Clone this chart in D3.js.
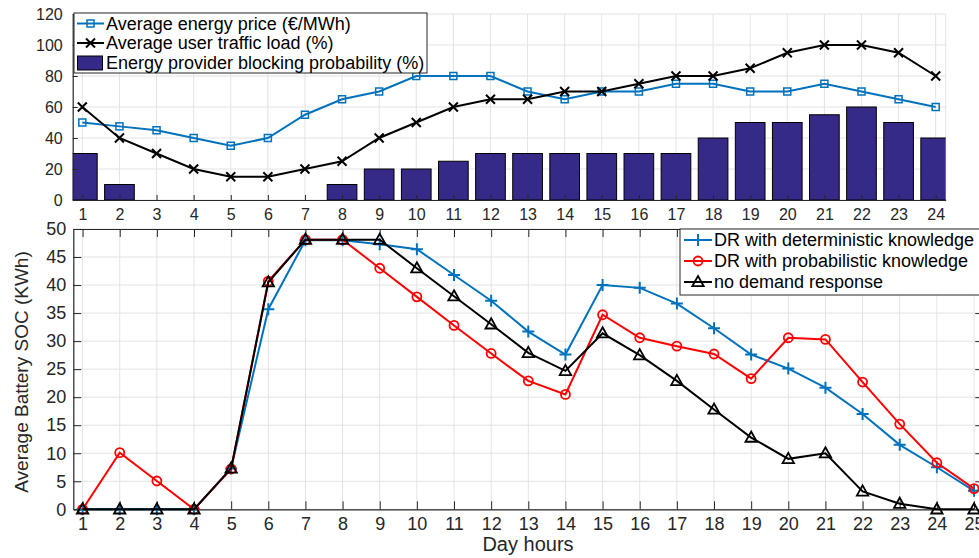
<!DOCTYPE html>
<html><head><meta charset="utf-8">
<script src="https://cdn.jsdelivr.net/npm/d3@7"></script>
<style>
body{margin:0;background:#fff;}
svg{display:block;font-family:"Liberation Sans",Arial,Helvetica,sans-serif;}
</style></head>
<body><svg id="chart" width="979" height="558"></svg>
<script>
// ---- data ----
const hoursTop = d3.range(1, 25);
const energyPrice = [50,47.5,45,40,35,40,55,65,70,80,80,80,70,65,70,70,75,75,70,70,75,70,65,60];
const trafficLoad = [60,40,30,20,15,15,20,25,40,50,60,65,65,70,70,75,80,80,85,95,100,100,95,80];
const blocking    = [30,10,0,0,0,0,0,10,20,20,25,30,30,30,30,30,30,40,50,50,55,60,50,40];
const topYTicks = [0,20,40,60,80,100,120];

const hoursBottom = d3.range(1, 26);
const socDeterministic = [0,0,0,0,7.3,35.7,48,48,47.3,46.4,41.8,37.2,31.7,27.6,40.0,39.5,36.7,32.3,27.6,25.1,21.7,17.0,11.5,7.5,3.3];
const socProbabilistic = [0,10.1,5.05,0,7.2,40.7,48.1,48.1,43.0,37.9,32.8,27.8,22.9,20.5,34.7,30.6,29.1,27.7,23.3,30.6,30.3,22.7,15.2,8.3,3.7];
const socNoDR          = [0,0,0,0,7.3,40.5,48.1,48.1,48.1,43.0,38.0,33.0,27.9,24.7,31.4,27.5,22.9,17.8,12.8,9.0,10.0,3.2,1.0,0,0];
const bottomYTicks = d3.range(0, 51, 5);

const topLegend = ["Average energy price (\u20AC/MWh)", "Average user traffic load (%)", "Energy provider blocking probability (%)"];
const bottomLegend = ["DR with deterministic knowledge", "DR with probabilistic knowledge", "no demand response"];
const yLabel = "Average Battery SOC (KWh)";
const xLabel = "Day hours";

// ---- style ----
const BLUE = "#0072BD", RED = "#FF0000", BLACK = "#000000", BAR = "#352A87";
const AX = "#262626", GRID = "#e3e3e3";

const svg = d3.select("#chart");

// ================= TOP PANEL =================
const T = {l:72.7, r:945.7, t:14, b:200};
const xT = d3.scaleLinear().domain([0.74, 24.27]).range([T.l, T.r]);
const yT = d3.scaleLinear().domain([0, 120]).range([T.b, T.t]);
const gT = svg.append("g");
svg.append("defs").append("clipPath").attr("id","clipT")
  .append("rect").attr("x",T.l).attr("y",T.t).attr("width",T.r-T.l).attr("height",T.b-T.t);

// grid
gT.append("g").selectAll("line").data(hoursTop).join("line")
  .attr("x1",d=>xT(d)).attr("x2",d=>xT(d)).attr("y1",T.t).attr("y2",T.b)
  .attr("stroke",GRID).attr("stroke-width",1);
gT.append("g").selectAll("line").data(topYTicks).join("line")
  .attr("x1",T.l).attr("x2",T.r).attr("y1",d=>yT(d)).attr("y2",d=>yT(d))
  .attr("stroke",GRID).attr("stroke-width",1);
gT.append("line").attr("x1",T.r).attr("x2",T.r).attr("y1",T.t).attr("y2",T.b).attr("stroke",GRID);

// bars
const bw = 0.8;
gT.append("g").attr("clip-path","url(#clipT)").selectAll("rect").data(blocking).join("rect")
  .attr("x",(d,i)=>xT(hoursTop[i]-bw/2)).attr("width",xT(1+bw)-xT(1))
  .attr("y",d=>yT(d)).attr("height",d=>yT(0)-yT(d))
  .attr("fill",BAR).attr("stroke","#000").attr("stroke-width",1);

// axes
const axTB = d3.axisBottom(xT).tickValues(hoursTop).tickFormat(d3.format("d")).tickSizeInner(-5).tickSizeOuter(0).tickPadding(9);
const gxT = gT.append("g").attr("transform",`translate(0,${T.b})`).call(axTB);
const axTL = d3.axisLeft(yT).tickValues(topYTicks).tickSizeInner(-5).tickSizeOuter(0).tickPadding(10);
const gyT = gT.append("g").attr("transform",`translate(${T.l},0)`).call(axTL);
[gxT,gyT].forEach(g=>{
  g.select(".domain").attr("stroke",AX).attr("stroke-width",1.2);
  g.selectAll(".tick line").attr("stroke",AX);
  g.selectAll(".tick text").attr("fill",AX).attr("font-size",16).attr("font-family","Liberation Sans, Arial, sans-serif");
});

// lines
const lineT = d3.line().x((d,i)=>xT(hoursTop[i])).y(d=>yT(d));
gT.append("path").datum(energyPrice).attr("d",lineT).attr("fill","none").attr("stroke",BLUE).attr("stroke-width",2);
gT.append("g").selectAll("rect").data(energyPrice).join("rect")
  .attr("x",(d,i)=>xT(hoursTop[i])-3.5).attr("y",d=>yT(d)-3.5).attr("width",7).attr("height",7)
  .attr("fill","none").attr("stroke",BLUE).attr("stroke-width",1.5);
gT.append("path").datum(trafficLoad).attr("d",lineT).attr("fill","none").attr("stroke",BLACK).attr("stroke-width",2);
const xMark = (g, cx, cy, s) => g.append("path").attr("d",`M${cx-s},${cy-s}L${cx+s},${cy+s}M${cx-s},${cy+s}L${cx+s},${cy-s}`)
  .attr("stroke",BLACK).attr("stroke-width",2).attr("fill","none");
const gX = gT.append("g");
trafficLoad.forEach((d,i)=>xMark(gX, xT(hoursTop[i]), yT(d), 4.5));

// legend
const LT = {x:74, y:13, w:353, h:60};
const gLT = svg.append("g");
gLT.append("rect").attr("x",LT.x).attr("y",LT.y).attr("width",LT.w).attr("height",LT.h)
  .attr("fill","#fff").attr("stroke",AX).attr("stroke-width",1);
const rowsT = [23.5, 43, 62.5];
gLT.append("line").attr("x1",77).attr("x2",104).attr("y1",rowsT[0]).attr("y2",rowsT[0]).attr("stroke",BLUE).attr("stroke-width",2);
gLT.append("rect").attr("x",90.5-3.5).attr("y",rowsT[0]-3.5).attr("width",7).attr("height",7).attr("fill","none").attr("stroke",BLUE).attr("stroke-width",1.5);
gLT.append("line").attr("x1",77).attr("x2",104).attr("y1",rowsT[1]).attr("y2",rowsT[1]).attr("stroke",BLACK).attr("stroke-width",2);
xMark(gLT, 90.5, rowsT[1], 4.5);
gLT.append("rect").attr("x",77.5).attr("y",56).attr("width",25).attr("height",14).attr("fill",BAR).attr("stroke","#000");
gLT.selectAll("text").data(topLegend).join("text")
  .attr("x",106).attr("y",(d,i)=>rowsT[i]).attr("dy","0.35em")
  .attr("font-size",18).attr("fill","#000").text(d=>d);

// ================= BOTTOM PANEL =================
const B = {l:73.3, r:983.3, t:229, b:509.3};
const xB = d3.scaleLinear().domain([0.75, 25.25]).range([B.l, B.r]);
const yB = d3.scaleLinear().domain([0, 50]).range([B.b, B.t]);
const gB = svg.append("g");

gB.append("g").selectAll("line").data(hoursBottom).join("line")
  .attr("x1",d=>xB(d)).attr("x2",d=>xB(d)).attr("y1",B.t).attr("y2",B.b).attr("stroke",GRID);
gB.append("g").selectAll("line").data(bottomYTicks).join("line")
  .attr("x1",B.l).attr("x2",B.r).attr("y1",d=>yB(d)).attr("y2",d=>yB(d)).attr("stroke",GRID);

const axBB = d3.axisBottom(xB).tickValues(hoursBottom).tickFormat(d3.format("d")).tickSizeInner(-8).tickSizeOuter(0).tickPadding(8);
const gxB = gB.append("g").attr("transform",`translate(0,${B.b})`).call(axBB);
const axBT = d3.axisTop(xB).tickValues(hoursBottom).tickFormat("").tickSizeInner(-8).tickSizeOuter(0);
const gxB2 = gB.append("g").attr("transform",`translate(0,${B.t})`).call(axBT);
const axBL = d3.axisLeft(yB).tickValues(bottomYTicks).tickSizeInner(-8).tickSizeOuter(0).tickPadding(7);
const gyB = gB.append("g").attr("transform",`translate(${B.l},0)`).call(axBL);
const axBR = d3.axisRight(yB).tickValues(bottomYTicks).tickFormat("").tickSizeInner(-8).tickSizeOuter(0);
const gyB2 = gB.append("g").attr("transform",`translate(${B.r},0)`).call(axBR);
[gxB,gxB2,gyB,gyB2].forEach(g=>{
  g.select(".domain").attr("stroke",AX).attr("stroke-width",1.2);
  g.selectAll(".tick line").attr("stroke",AX);
  g.selectAll(".tick text").attr("fill",AX).attr("font-size",18).attr("font-family","Liberation Sans, Arial, sans-serif");
});

const lineB = d3.line().x((d,i)=>xB(hoursBottom[i])).y(d=>yB(d));
// deterministic (blue +)
gB.append("path").datum(socDeterministic).attr("d",lineB).attr("fill","none").attr("stroke",BLUE).attr("stroke-width",2);
const plus = (g,cx,cy,s,c)=>g.append("path").attr("d",`M${cx-s},${cy}L${cx+s},${cy}M${cx},${cy-s}L${cx},${cy+s}`)
  .attr("stroke",c).attr("stroke-width",2).attr("fill","none");
const gP = gB.append("g");
socDeterministic.forEach((d,i)=>plus(gP, xB(hoursBottom[i]), yB(d), 6, BLUE));
// probabilistic (red o)
gB.append("path").datum(socProbabilistic).attr("d",lineB).attr("fill","none").attr("stroke",RED).attr("stroke-width",2);
gB.append("g").selectAll("circle").data(socProbabilistic).join("circle")
  .attr("cx",(d,i)=>xB(hoursBottom[i])).attr("cy",d=>yB(d)).attr("r",4.5)
  .attr("fill","none").attr("stroke",RED).attr("stroke-width",1.8);
// no DR (black triangle)
gB.append("path").datum(socNoDR).attr("d",lineB).attr("fill","none").attr("stroke",BLACK).attr("stroke-width",2);
const tri = (g,cx,cy,s)=>g.append("path").attr("d",`M${cx},${cy-s}L${cx+s*0.95},${cy+s*0.7}L${cx-s*0.95},${cy+s*0.7}Z`)
  .attr("stroke",BLACK).attr("stroke-width",1.8).attr("fill","none");
const gTr = gB.append("g");
socNoDR.forEach((d,i)=>tri(gTr, xB(hoursBottom[i]), yB(d), 6));

// legend
const gLB = svg.append("g");
gLB.append("rect").attr("x",680).attr("y",229).attr("width",310).attr("height",66)
  .attr("fill","#fff").attr("stroke",AX).attr("stroke-width",1);
const rowsB = [240, 261, 282];
const cols = [BLUE, RED, BLACK];
rowsB.forEach((y,i)=>{
  gLB.append("line").attr("x1",684).attr("x2",712).attr("y1",y).attr("y2",y).attr("stroke",cols[i]).attr("stroke-width",2);
});
plus(gLB, 698, rowsB[0], 6, BLUE);
gLB.append("circle").attr("cx",698).attr("cy",rowsB[1]).attr("r",4.5).attr("fill","none").attr("stroke",RED).attr("stroke-width",1.8);
tri(gLB, 698, rowsB[2], 6);
gLB.selectAll("text").data(bottomLegend).join("text")
  .attr("x",714).attr("y",(d,i)=>rowsB[i]).attr("dy","0.35em")
  .attr("font-size",18).attr("fill","#000").text(d=>d);

// axis labels
svg.append("text").attr("transform",`translate(28,372) rotate(-90)`).attr("text-anchor","middle")
  .attr("font-size",19).attr("fill",AX).text(yLabel);
svg.append("text").attr("x",528).attr("y",551).attr("text-anchor","middle")
  .attr("font-size",20).attr("fill",AX).text(xLabel);
</script></body></html>
